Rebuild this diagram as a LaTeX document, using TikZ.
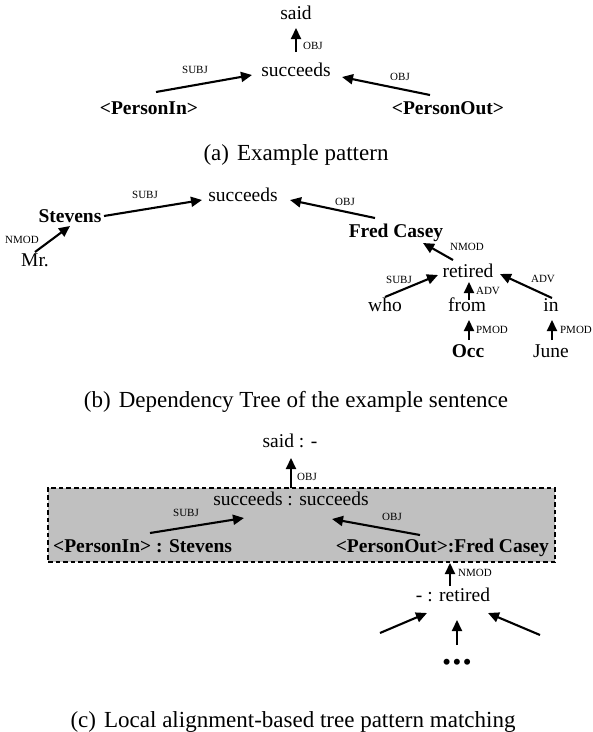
\documentclass[tikz,border=0pt]{standalone}
\usepackage{fontspec}
\setmainfont{Liberation Serif}
\usetikzlibrary{arrows.meta}
\definecolor{boxgray}{HTML}{C0C0C0}
\begin{document}
\begin{tikzpicture}[x=1pt,y=-1pt,
  w/.style={font=\fontsize{19.5}{20}\selectfont, inner sep=0pt, text height=13.6pt, text depth=3.9pt},
  wb/.style={w, font=\fontsize{19.5}{20}\selectfont\bfseries},
  lab/.style={font=\fontsize{11}{12}\selectfont, inner sep=0pt},
  captxt/.style={font=\fontsize{23}{24}\selectfont, inner sep=0pt},
  arr/.style={line width=2.1pt, -{Triangle[length=11pt,width=10pt]}},
  ]
\useasboundingbox (0,0) rectangle (593,732);

% ---------------- (a) ----------------
\node[w]  (said)  at (296,15)  {said};
\node[w]  (succA) at (296,72)  {succeeds};
\node[wb] (pinA)  at (149,110) {<PersonIn>};
\node[wb] (poutA) at (448,110) {<PersonOut>};
\draw[arr] ([shift={(0,-20)}]succA.center) -- ([shift={(0,13)}]said.center);
\draw[arr] ([shift={(7,-18)}]pinA.center) -- ([shift={(-44,3)}]succA.center);
\draw[arr] ([shift={(-18,-15)}]poutA.center) -- ([shift={(46,5)}]succA.center);
\node[lab] (la1) at (313,46) {OBJ};
\node[lab] (la2) at (195,70) {SUBJ};
\node[lab] (la3) at (400,77) {OBJ};
\node[captxt] (capA) at (296,155) {(a)\hspace{0.35em}Example pattern};

% ---------------- (b) ----------------
\node[w]  (succB)   at (243,197) {succeeds};
\node[wb] (stevens) at (70,218)  {Stevens};
\node[w]  (mr)      at (35,262)  {Mr.};
\node[wb] (fred)    at (396,233) {Fred Casey};
\node[w]  (retired) at (468,273) {retired};
\node[w]  (who)     at (385,307) {who};
\node[w]  (from)    at (467,307) {from};
\node[w]  (in)      at (551,307) {in};
\node[wb] (occ)     at (468,353) {Occ};
\node[w]  (june)    at (551,353) {June};
\draw[arr] ([shift={(34,-2)}]stevens.center) -- ([shift={(-41,3)}]succB.center);
\draw[arr] ([shift={(0,-10)}]mr.center) -- ([shift={(0,8)}]stevens.center);
\draw[arr] ([shift={(-21,-15)}]fred.center) -- ([shift={(47,3)}]succB.center);
\draw[arr] ([shift={(-15,-13)}]retired.center) -- ([shift={(27,10)}]fred.center);
\draw[arr] ([shift={(0,-10)}]who.center) -- ([shift={(-30,2)}]retired.center);
\draw[arr] ([shift={(2,-7)}]from.center) -- ([shift={(1,9)}]retired.center);
\draw[arr] ([shift={(1,-9)}]in.center) -- ([shift={(32,1)}]retired.center);
\draw[arr] ([shift={(1,-13)}]occ.center) -- ([shift={(2,13)}]from.center);
\draw[arr] ([shift={(1,-13)}]june.center) -- ([shift={(1,13)}]in.center);
\node[lab] (lb1) at (145,195) {SUBJ};
\node[lab] (lb2) at (22,240)  {NMOD};
\node[lab] (lb3) at (345,202) {OBJ};
\node[lab] (lb4) at (467,247) {NMOD};
\node[lab] (lb5) at (399,280) {SUBJ};
\node[lab] (lb6) at (488,291) {ADV};
\node[lab] (lb7) at (543,279) {ADV};
\node[lab] (lb8) at (492,330) {PMOD};
\node[lab] (lb9) at (576,330) {PMOD};
\node[captxt] (capB) at (296,402) {(b)\hspace{0.35em}Dependency Tree of the example sentence};

% ---------------- (c) ----------------
\node[draw, fill=boxgray, line width=1.8pt, dash pattern=on 4.5pt off 3pt,
      minimum width=507pt, minimum height=74pt, inner sep=0pt] (box) at (301.5,525) {};
\node[w]  (saidC) at (290,443) {said : -};
\node[w]  (succC) at (291,501) {succeeds : succeeds};
\node[wb, anchor=west] (pinC)  at (53,548)  {<PersonIn> : Stevens};
\node[wb, anchor=east] (poutC) at (549,548) {<PersonOut>:Fred Casey};
\node[w]  (retC)  at (453,597) {- : retired};
\coordinate (l1) at (380,633);
\coordinate (m1) at (457,645);
\coordinate (r1) at (540,635);
\draw[arr] ([shift={(0,-13)}]succC.center) -- ([shift={(1,15)}]saidC.center);
\draw[arr] ([shift={(97,-15)}]pinC.west) -- ([shift={(-47,17)}]succC.center);
\draw[arr] ([shift={(-129,-13)}]poutC.east) -- ([shift={(41,18)}]succC.center);
\draw[arr] ([shift={(-3,-11)}]retC.center) -- ([shift={(-99,15)}]poutC.east);
\draw[arr] (l1) -- ([shift={(-26,16)}]retC.center);
\draw[arr] (m1) -- ([shift={(4,23)}]retC.center);
\draw[arr] (r1) -- ([shift={(35,16)}]retC.center);
\node[font=\fontsize{22}{24}\selectfont\bfseries, inner sep=0pt] (dots) at (457,664)
  {\textbullet\hspace{2.5pt}\textbullet\hspace{2.5pt}\textbullet};
\node[lab] (lc1) at (307,477) {OBJ};
\node[lab] (lc2) at (186,513) {SUBJ};
\node[lab] (lc3) at (392,517) {OBJ};
\node[lab] (lc4) at (475,573) {NMOD};
\node[captxt] (capC) at (293,722) {(c)\hspace{0.35em}Local alignment-based tree pattern matching};
\end{tikzpicture}
\end{document}
